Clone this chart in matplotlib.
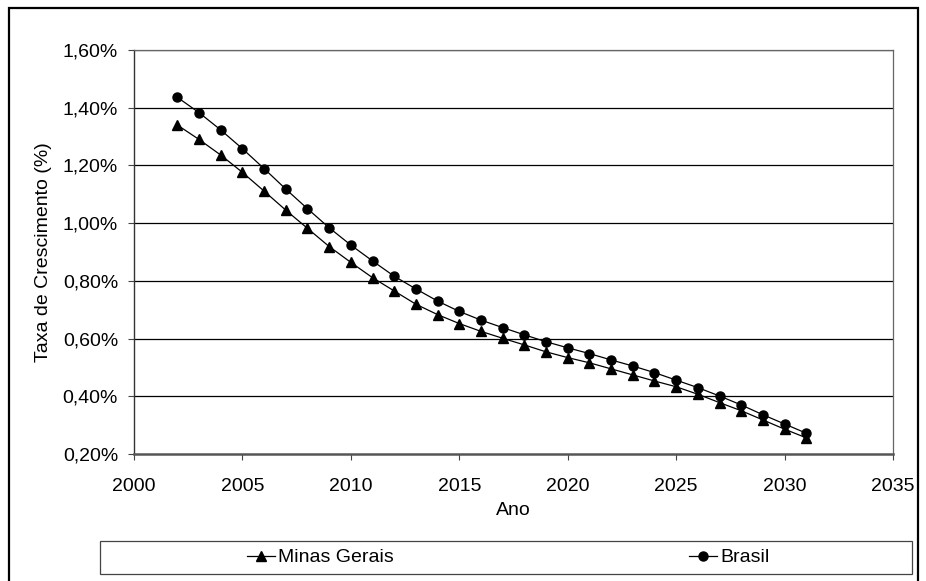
import matplotlib
matplotlib.use("Agg")
import matplotlib.pyplot as plt
from matplotlib.patches import Rectangle
from matplotlib.ticker import FuncFormatter

plt.rcParams['font.family'] = ['Liberation Sans', 'DejaVu Sans']

anos = list(range(2002, 2032))

# taxas de crescimento (%) por ano
minas_gerais = [1.340, 1.290, 1.236, 1.176, 1.111, 1.045, 0.982, 0.919, 0.864, 0.811,
                0.765, 0.719, 0.683, 0.652, 0.625, 0.601, 0.578, 0.554, 0.534, 0.516,
                0.495, 0.474, 0.453, 0.433, 0.407, 0.378, 0.350, 0.318, 0.286, 0.256]
brasil = [1.436, 1.383, 1.323, 1.258, 1.189, 1.118, 1.050, 0.984, 0.924, 0.869,
          0.816, 0.772, 0.730, 0.694, 0.664, 0.638, 0.613, 0.589, 0.568, 0.548,
          0.526, 0.505, 0.482, 0.456, 0.430, 0.401, 0.370, 0.336, 0.304, 0.272]

y_ticks = [0.2, 0.4, 0.6, 0.8, 1.0, 1.2, 1.4, 1.6]
x_ticks = [2000, 2005, 2010, 2015, 2020, 2025, 2030, 2035]

FS = 14

fig = plt.figure(figsize=(9.26, 5.81), dpi=100)
ax = fig.add_axes([0.1447, 0.2186, 0.8197, 0.6953])

for y in y_ticks[1:]:
    ax.axhline(y, color='black', lw=0.9, zorder=1)

ax.plot(anos, minas_gerais, color='black', lw=0.9, marker='^', ms=6.5,
        label='Minas Gerais', zorder=3)
ax.plot(anos, brasil, color='black', lw=0.9, marker='o', ms=6.5,
        label='Brasil', zorder=3)

ax.set_xlim(2000, 2035)
ax.set_ylim(0.2, 1.6)
ax.set_xticks(x_ticks)
ax.set_yticks(y_ticks)
ax.yaxis.set_major_formatter(FuncFormatter(lambda v, p: f"{v:.2f}%".replace('.', ',')))
ax.tick_params(direction='out', length=4.5, width=0.8, colors='#444444',
               labelcolor='black', labelsize=FS)
ax.tick_params(axis='y', pad=7)
ax.tick_params(axis='x', pad=13)

for side in ['top', 'right']:
    ax.spines[side].set_color('#666666')
    ax.spines[side].set_linewidth(0.9)
ax.spines['left'].set_color('#333333')
ax.spines['left'].set_linewidth(1.0)
ax.spines['bottom'].set_color('#555555')
ax.spines['bottom'].set_linewidth(1.8)

ax.set_xlabel('Ano', fontsize=FS, labelpad=5)
ax.set_ylabel('Taxa de Crescimento (%)', fontsize=FS, labelpad=8)

# legenda: moldura desenhada à parte, entradas posicionadas dentro dela
fig.patches.append(Rectangle((0.108, 0.012), 0.8769, 0.0568, transform=fig.transFigure,
                             fill=False, edgecolor='#444444', lw=0.9))
leg = fig.legend(loc='center', bbox_to_anchor=(0.5486, 0.0404), ncol=2,
                 frameon=False, fontsize=FS, handlelength=1.45, handletextpad=0.15,
                 columnspacing=15.2, borderpad=0, borderaxespad=0)

# moldura externa do gráfico
fig.patches.append(Rectangle((0.0097, -0.05), 0.982, 1.036, transform=fig.transFigure,
                             fill=False, edgecolor='black', lw=1.6))

fig.savefig('out.png', dpi=100)
